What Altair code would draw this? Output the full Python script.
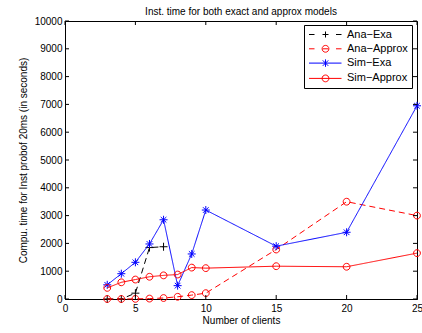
import altair as alt
import pandas as pd

series_names = ["Ana−Exa", "Ana−Approx", "Sim−Exa", "Sim−Approx"]
series_colors = ["#000000", "#ff0000", "#0000ff", "#ff0000"]
series_dash = [[6, 4], [6, 4], [1, 0], [1, 0]]

ana_exa_x = [3, 4, 5, 6, 7]
ana_exa_y = [0, 0, 210, 1850, 1880]

ana_approx_x = [3, 4, 5, 6, 7, 8, 9, 10, 15, 20, 25]
ana_approx_y = [0, 0, 5, 15, 35, 80, 140, 210, 1780, 3500, 3000]

sim_exa_x = [3, 4, 5, 6, 7, 8, 9, 10, 15, 20, 25]
sim_exa_y = [510, 910, 1320, 1980, 2850, 480, 1620, 3200, 1900, 2400, 6950]

sim_approx_x = [3, 4, 5, 6, 7, 8, 9, 10, 15, 20, 25]
sim_approx_y = [400, 600, 700, 800, 850, 880, 1130, 1110, 1180, 1160, 1650]

x_ticks = [0, 5, 10, 15, 20, 25]
y_ticks = [0, 1000, 2000, 3000, 4000, 5000, 6000, 7000, 8000, 9000, 10000]

# marker paths (unit coordinates)
PLUS = "M-1,0L1,0M0,-1L0,1"
CIRC = "M0.85,0A0.85,0.85,0,1,1,-0.85,0A0.85,0.85,0,1,1,0.85,0"
STAR = "M-1,0L1,0M0,-1L0,1M-0.7,-0.7L0.7,0.7M-0.7,0.7L0.7,-0.7"
markers = [PLUS, CIRC, STAR, CIRC]

# legend symbols: line segment + marker
LC = "M0.68,0A0.68,0.68,0,1,1,-0.68,0A0.68,0.68,0,1,1,0.68,0"
leg_paths = [
    "M-3.3,0L-2.2,0M2.1,0L3.2,0M-0.6,0L0.6,0M0,-0.6L0,0.6",
    "M-3.3,0L-2.2,0M2.1,0L3.2,0M-0.55,0L0.55,0" + LC,
    "M-3.3,0L3.2,0M0,-0.75L0,0.75M-0.55,-0.55L0.55,0.55M-0.55,0.55L0.55,-0.55",
    "M-3.3,0L3.2,0" + LC,
]

rows = []
for name, xs, ys in [
    (series_names[0], ana_exa_x, ana_exa_y),
    (series_names[1], ana_approx_x, ana_approx_y),
    (series_names[2], sim_exa_x, sim_exa_y),
    (series_names[3], sim_approx_x, sim_approx_y),
]:
    for xv, yv in zip(xs, ys):
        rows.append({"series": name, "x": xv, "y": yv})
df = pd.DataFrame(rows)

W, H = 352, 278
FONT = "Liberation Sans"
XT = "Number of clients"
YT = "Compu. time for Inst probof 20ms (in seconds)"

xscale = alt.Scale(domain=[0, 25], nice=False, zero=False)
yscale = alt.Scale(domain=[0, 10000], nice=False)
cscale = alt.Scale(domain=series_names, range=series_colors)

xaxis = alt.Axis(values=x_ticks, tickSize=0, labelPadding=4, titlePadding=2,
                 grid=False, labelFontSize=10, titleFontSize=10,
                 labelFlush=False, labelOverlap=False)
yaxis = alt.Axis(values=y_ticks, tickSize=0, labelPadding=3, titlePadding=6,
                 grid=False, labelFontSize=10, titleFontSize=10, format="d",
                 labelFlush=False, labelOverlap=False)


def X(f):
    return alt.X(f, scale=xscale, title=XT, axis=xaxis)


def Y(f):
    return alt.Y(f, scale=yscale, title=YT, axis=yaxis)


base = alt.Chart(df)

leg = alt.Legend(orient="none", legendX=239, legendY=4, symbolOpacity=1)
legend_layer = base.mark_point(filled=False, strokeWidth=1, opacity=0).encode(
    x=X("x:Q"), y=Y("y:Q"),
    color=alt.Color("series:N", scale=cscale, title=None, legend=leg),
    shape=alt.Shape("series:N", scale=alt.Scale(domain=series_names, range=leg_paths),
                    title=None, legend=leg),
)

series_layers = []
for name, path, dash in zip(series_names, markers, series_dash):
    sub = base.transform_filter(alt.datum.series == name)
    series_layers.append(
        sub.mark_line(strokeWidth=1, strokeDash=dash).encode(
            x=X("x:Q"), y=Y("y:Q"),
            color=alt.Color("series:N", scale=cscale, legend=None),
            order="x:Q",
        )
    )
    series_layers.append(
        sub.mark_point(shape=path, size=64, filled=False, strokeWidth=1, opacity=1).encode(
            x=X("x:Q"), y=Y("y:Q"),
            color=alt.Color("series:N", scale=cscale, legend=None),
        )
    )

xt = pd.DataFrame({"t": x_ticks})
yt = pd.DataFrame({"t": y_ticks})
tick_x_bottom = alt.Chart(xt).mark_rule(color="black", strokeWidth=1).encode(
    x=X("t:Q"), y=alt.value(H), y2=alt.value(H - 4))
tick_x_top = alt.Chart(xt).mark_rule(color="black", strokeWidth=1).encode(
    x=X("t:Q"), y=alt.value(0), y2=alt.value(4))
tick_y_left = alt.Chart(yt).mark_rule(color="black", strokeWidth=1).encode(
    y=Y("t:Q"), x=alt.value(0), x2=alt.value(4))
tick_y_right = alt.Chart(yt).mark_rule(color="black", strokeWidth=1).encode(
    y=Y("t:Q"), x=alt.value(W), x2=alt.value(W - 4))

chart = alt.layer(
    legend_layer, *series_layers,
    tick_x_bottom, tick_x_top, tick_y_left, tick_y_right,
).properties(
    width=W, height=H,
    title=alt.Title("Inst. time for both exact and approx models", fontSize=10,
                    fontWeight="normal", font=FONT, color="black", offset=6, dy=7),
    autosize=alt.AutoSizeParams(type="none"),
    padding={"left": 65, "top": 21, "right": 5, "bottom": 34},
).configure_view(
    stroke="black", strokeWidth=1
).configure_axis(
    labelFont=FONT, titleFont=FONT, labelColor="black", titleColor="black",
    domainColor="black", titleFontWeight="normal",
).configure_legend(
    labelFont=FONT, labelFontSize=11, labelColor="black",
    strokeColor="black", fillColor="white", padding=4, cornerRadius=0,
    rowPadding=2.3, symbolSize=100, symbolStrokeWidth=1, symbolOffset=12,
    labelOffset=16,
)

chart.save("out.html", embed_options={"renderer": "svg", "actions": False})
